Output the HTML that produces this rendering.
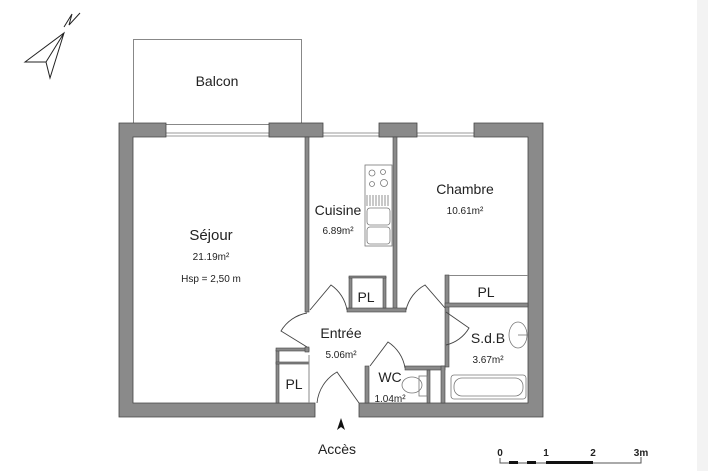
<!DOCTYPE html>
<html><head><meta charset="utf-8"><style>
html,body{margin:0;padding:0;background:#fff;width:708px;height:471px;overflow:hidden}
svg{display:block}
text{font-family:"Liberation Sans",Arial,sans-serif;fill:#222}
</style></head><body>
<svg width="708" height="471" viewBox="0 0 708 471" xmlns="http://www.w3.org/2000/svg">
<rect x="697" y="0" width="11" height="471" fill="#f3f3f3"/>
<!-- north arrow -->
<g fill="none" stroke="#222" stroke-width="1">
<path d="M25 62 L64 33 L50 78 L46 62 Z M46 62 L64 33"/>
<path d="M64 27 L72 14 L69 25 L80 13"/>
</g>
<!-- balcon -->
<rect x="133.5" y="39.5" width="168" height="85" fill="none" stroke="#888" stroke-width="1"/>
<text x="217" y="86" font-size="14" text-anchor="middle">Balcon</text>
<!-- windows -->
<g stroke="#999" stroke-width="1" fill="#fff">
<rect x="165" y="133" width="104" height="3"/>
<rect x="322" y="133" width="57" height="3"/>
<rect x="417" y="133" width="57" height="3"/>
</g>
<!-- outer walls -->
<g fill="#8a8a8a" stroke="#444" stroke-width="0.8">
<path d="M119 123 H166 V137 H133 V403 H315 V417 H119 Z"/>
<rect x="269" y="123" width="54" height="14"/>
<rect x="379" y="123" width="38" height="14"/>
<path d="M474 123 H543 V417 H359 V403 H528 V137 H474 Z"/>
</g>
<!-- interior walls -->
<g fill="#8a8a8a" stroke="#444" stroke-width="0.6">
<rect x="305" y="137" width="4" height="175"/>
<rect x="393" y="137" width="4" height="173"/>
<rect x="347" y="308" width="59" height="4"/>
<rect x="349" y="277" width="3" height="31"/>
<rect x="383" y="277" width="3" height="31"/>
<rect x="349" y="276" width="37" height="2"/>
<rect x="445" y="275" width="4" height="92"/>
<rect x="445" y="303" width="83" height="4"/>
<rect x="276" y="350" width="3" height="53"/>
<rect x="276" y="348" width="33" height="3"/>
<rect x="276" y="362" width="33" height="2"/>
<rect x="305" y="347" width="4" height="5"/>
<rect x="365" y="366" width="4" height="37"/>
<rect x="405" y="366" width="40" height="4"/>
<rect x="427" y="370" width="3" height="33"/>
<rect x="441" y="366" width="4" height="37"/>
</g>
<line x1="449" y1="275.5" x2="528" y2="275.5" stroke="#888" stroke-width="1"/>
<line x1="309" y1="355" x2="309" y2="403" stroke="#888" stroke-width="1"/>
<!-- kitchen -->
<g fill="none" stroke="#777" stroke-width="0.8">
<rect x="365" y="165" width="27" height="81"/>
<circle cx="372" cy="173" r="3"/><circle cx="383" cy="172" r="2.5"/>
<circle cx="372" cy="184" r="2.5"/><circle cx="384" cy="183" r="3.5"/>
<path d="M367 195 V206 M370 195 V206 M373 195 V206 M376 195 V206 M379 195 V206 M382 195 V206 M385 195 V206 M388 195 V206"/>
<rect x="367" y="208" width="23" height="17" rx="3"/>
<rect x="367" y="227" width="23" height="17" rx="3"/>
</g>
<!-- bathroom -->
<g fill="none" stroke="#777" stroke-width="0.8">
<rect x="451" y="375" width="75" height="24" rx="3"/>
<rect x="454" y="378" width="69" height="18" rx="8"/>
<ellipse cx="518" cy="335" rx="9" ry="13"/>
<line x1="518" y1="335" x2="528" y2="335"/>
<ellipse cx="412" cy="385" rx="10" ry="8"/>
<rect x="419" y="376" width="8" height="20"/>
</g>
<!-- doors -->
<g fill="none" stroke="#444" stroke-width="0.9">
<path d="M307 347 L281 331 A38 38 0 0 1 307 313"/>
<path d="M310 310 L331 285 A38 38 0 0 1 347 310"/>
<path d="M445 308 L425 285 A38 38 0 0 0 406 310"/>
<path d="M446 312 L469 328 A36 36 0 0 1 446 345"/>
<path d="M359 403 L337 372 A40 40 0 0 0 317 403"/>
<path d="M370 366 L388 342 A38 38 0 0 1 405 368"/>
</g>
<!-- labels -->
<text x="211" y="240" font-size="15" text-anchor="middle">Séjour</text>
<text x="211" y="260" font-size="10" text-anchor="middle">21.19m²</text>
<text x="211" y="282" font-size="10" text-anchor="middle">Hsp = 2,50 m</text>
<text x="338" y="215" font-size="14" text-anchor="middle">Cuisine</text>
<text x="338" y="234" font-size="10" text-anchor="middle">6.89m²</text>
<text x="465" y="194" font-size="14" text-anchor="middle">Chambre</text>
<text x="465" y="214" font-size="10" text-anchor="middle">10.61m²</text>
<text x="341" y="338" font-size="14" text-anchor="middle">Entrée</text>
<text x="341" y="358" font-size="10" text-anchor="middle">5.06m²</text>
<text x="488" y="343" font-size="14" text-anchor="middle">S.d.B</text>
<text x="488" y="363" font-size="10" text-anchor="middle">3.67m²</text>
<text x="390" y="382" font-size="14" text-anchor="middle">WC</text>
<text x="390" y="402" font-size="10" text-anchor="middle">1.04m²</text>
<text x="366" y="302" font-size="14" text-anchor="middle">PL</text>
<text x="486" y="297" font-size="14" text-anchor="middle">PL</text>
<text x="294" y="389" font-size="14" text-anchor="middle">PL</text>
<!-- acces -->
<path d="M337 430 L341 418 L345 430 L341 427 Z" fill="#111"/>
<text x="337" y="454" font-size="14" text-anchor="middle">Accès</text>
<!-- scale -->
<g stroke="#555" stroke-width="1" fill="none">
<path d="M500 458 V463 H641 V457"/>
</g>
<g fill="#111">
<rect x="509" y="461" width="9" height="3"/>
<rect x="527" y="461" width="9" height="3"/>
<rect x="546" y="461" width="47" height="3"/>
</g>
<text x="500" y="456" font-size="10" text-anchor="middle" font-weight="bold">0</text>
<text x="546" y="456" font-size="10" text-anchor="middle" font-weight="bold">1</text>
<text x="593" y="456" font-size="10" text-anchor="middle" font-weight="bold">2</text>
<text x="641" y="456" font-size="10" text-anchor="middle" font-weight="bold">3m</text>
</svg>
</body></html>
